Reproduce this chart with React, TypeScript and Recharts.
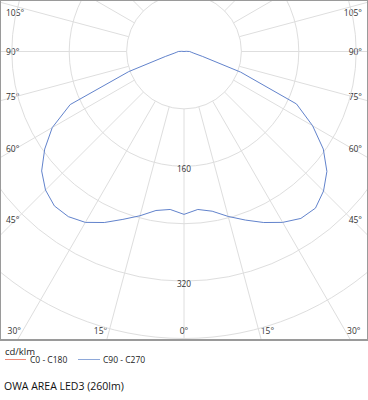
import { RadarChart, Radar, PolarGrid, PolarAngleAxis, PolarRadiusAxis } from "recharts";

const W = 368;
const H = 340;
const CX = 184;
const CY = 51.5;
const OUTER = 287;
const FONT = "'Open Sans', 'Noto Sans', sans-serif";

// gamma angles in degrees, 0 = straight down
const gamma = [
  0, 5, 10, 15, 20, 25, 30, 35, 40, 45, 50, 55, 60, 65, 70, 75, 80, 85, 90,
  95, 100, 105, 110, 115, 120, 125, 130, 135, 140, 145, 150, 155, 160, 165, 170, 175, 180,
];
// cd/klm, right half of the diagram
const c90 = [
  227, 221, 226, 238, 250, 263, 275, 284, 285, 275, 260, 237, 207, 173, 84, 27, 14, 10, 8,
  3, 0, 0, 0, 0, 0, 0, 0, 0, 0, 0, 0, 0, 0, 0, 0, 0, 0,
];
// cd/klm, left half of the diagram
const c270 = [
  227, 221, 225, 237, 249, 263, 275, 281, 281, 273, 259, 237, 212, 175, 82, 27, 14, 10, 8,
  3, 0, 0, 0, 0, 0, 0, 0, 0, 0, 0, 0, 0, 0, 0, 0, 0, 0,
];
const radiusTicks = [80, 160, 240, 320, 400];
const labelledRadius = [160, 320];
const angleTicks = [0, 15, 30, 45, 60, 75, 90, 105, 120, 135, 150, 165, 180, 195, 210, 225, 240, 255, 270, 285, 300, 315, 330, 345];

// a = position around the full circle (0..360), right side first
const rows = [
  ...gamma.map((g, i) => ({ a: g, v: c90[i] })),
  ...gamma
    .map((g, i) => ({ a: 360 - g, v: c270[i] }))
    .slice(1, -1)
    .reverse(),
];
const gridRows = angleTicks.map((a) => ({ a }));

const AngleTick = (props: any) => {
  const a = Number(props.payload?.value);
  const side = a <= 180 ? 1 : -1;
  const g = side > 0 ? a : 360 - a;
  if (g > 105) return <g />;
  const rad = (g * Math.PI) / 180;
  const style = { fontFamily: FONT, fontSize: 8.5, fill: "#333" };
  if (g <= 30) {
    const y = 330.5;
    const x = CX + side * (y - CY) * Math.tan(rad);
    const anchor = g === 0 ? "middle" : side > 0 ? "start" : "end";
    return (
      <text x={g === 0 ? x : x + side * 2} y={y} textAnchor={anchor} dominantBaseline="central" style={style}>
        {g}°
      </text>
    );
  }
  const y = Math.max(12.5, CY + ((CX - 16) * Math.cos(rad)) / Math.sin(rad));
  return (
    <text x={side > 0 ? W - 6 : 6} y={y} textAnchor={side > 0 ? "end" : "start"} dominantBaseline="central" style={style}>
      {g}°
    </text>
  );
};

const RadiusTick = (props: any) => {
  const v = props.payload?.value;
  if (!labelledRadius.includes(v)) return <g />;
  return (
    <text x={props.x} y={props.y + 2} textAnchor="middle" dominantBaseline="central" style={{ fontFamily: FONT, fontSize: 8.3, fill: "#333" }}>
      {v}
    </text>
  );
};

export default function App() {
  const m = { top: 0, right: 0, bottom: 0, left: 0 };
  return (
    <div style={{ position: "absolute", left: 0, top: 0, width: W, height: 400, background: "#fff" }}>
      <div style={{ position: "absolute", left: 0, top: 0 }}>
        <RadarChart
          width={W}
          height={H}
          cx={CX}
          cy={CY}
          innerRadius={(OUTER * 80) / 400}
          outerRadius={420}
          startAngle={-90}
          endAngle={270}
          data={gridRows}
          margin={m}
        >
          <PolarGrid gridType="circle" polarRadius={[]} stroke="#dedede" />
          <PolarAngleAxis type="number" dataKey="a" domain={[0, 360]} ticks={angleTicks} tick={<AngleTick />} axisLine={false} tickLine={false} />
        </RadarChart>
      </div>
      <div style={{ position: "absolute", left: 0, top: 0 }}>
        <RadarChart width={W} height={H} cx={CX} cy={CY} outerRadius={OUTER} startAngle={-90} endAngle={270} data={rows} margin={m}>
          <PolarGrid gridType="circle" radialLines={false} stroke="#dedede" />
          <PolarAngleAxis type="number" dataKey="a" domain={[0, 360]} tick={false} axisLine={false} tickLine={false} />
          <PolarRadiusAxis angle={-90} domain={[0, 400]} ticks={radiusTicks} tick={<RadiusTick />} axisLine={false} tickLine={false} />
          <Radar
            dataKey="v"
            stroke="#6283cc"
            strokeWidth={1}
            strokeLinejoin="round"
            strokeLinecap="butt"
            fill="none"
            dot={false}
            activeDot={false}
            isAnimationActive={false}
          />
        </RadarChart>
      </div>
      <div
        style={{
          position: "absolute",
          left: 0,
          top: 0,
          width: W,
          height: 341,
          boxSizing: "border-box",
          border: "1px solid #9a9a9a",
          borderBottomWidth: 2,
          pointerEvents: "none",
        }}
      />
      <svg width={W} height={60} style={{ position: "absolute", left: 0, top: 340 }}>
        <text x={5} y={15} style={{ fontFamily: FONT, fontSize: 9.5, fill: "#222" }}>cd/klm</text>
        <line x1={5} x2={26} y1={19.5} y2={19.5} stroke="#ef8a78" />
        <text x={30} y={23.3} style={{ fontFamily: FONT, fontSize: 8.5, fill: "#222" }}>C0 - C180</text>
        <line x1={78} x2={100} y1={19.5} y2={19.5} stroke="#8ea8d9" />
        <text x={103} y={23.3} style={{ fontFamily: FONT, fontSize: 8.5, fill: "#222" }}>C90 - C270</text>
        <text x={4} y={50} style={{ fontFamily: FONT, fontSize: 10.5, fill: "#111" }}>OWA AREA LED3 (260lm)</text>
      </svg>
    </div>
  );
}
